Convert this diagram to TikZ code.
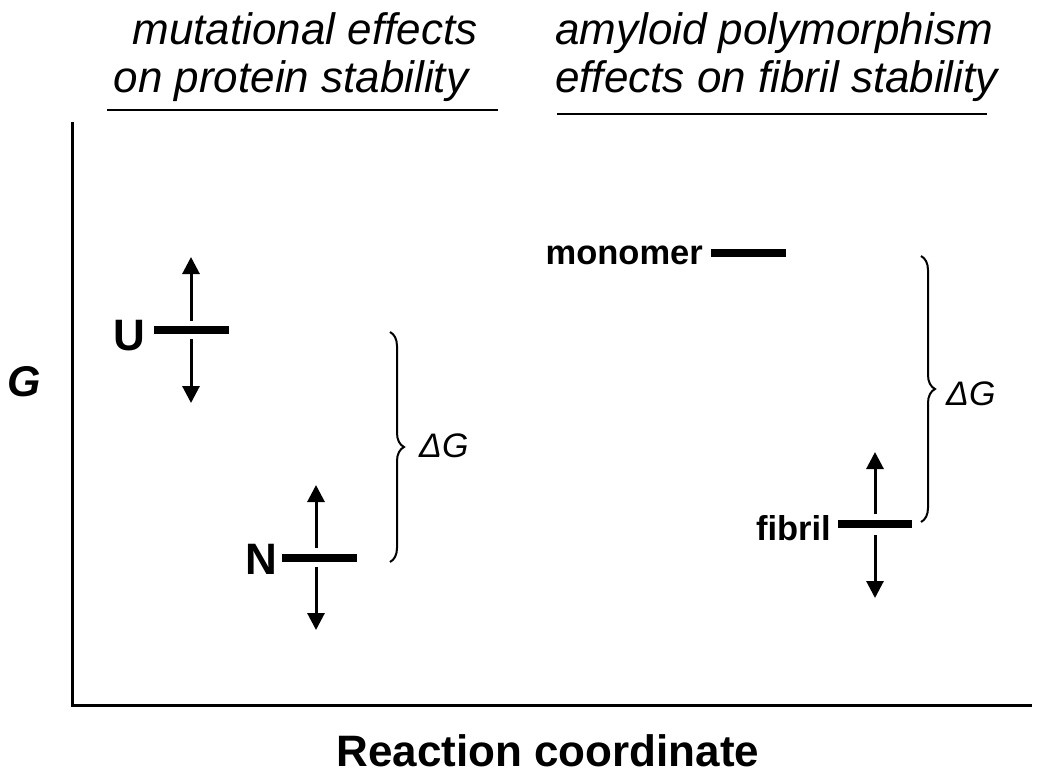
\documentclass[tikz,border=0pt]{standalone}
\usepackage{fontspec}
\setmainfont{Liberation Sans}
\usetikzlibrary{arrows.meta,decorations.pathreplacing}
\begin{document}
\begin{tikzpicture}[x=1pt,y=-1pt,
  axis/.style={line width=3pt},
  level/.style={line width=7.5pt},
  updown/.style={line width=3pt,-{Triangle[length=17pt,width=17pt]}},
  rule/.style={line width=2.5pt},
  gbrace/.style={decorate,decoration={brace,amplitude=14pt},line width=2pt},
  head/.style={inner sep=0pt,font=\fontsize{44}{50}\selectfont\itshape},
  lbl/.style={inner sep=0pt,font=\fontsize{34.5}{40}\selectfont\bfseries},
  big/.style={inner sep=0pt,font=\fontsize{44}{50}\selectfont\bfseries},
  dg/.style={inner sep=0pt,font=\fontsize{34}{40}\selectfont\itshape}]
\useasboundingbox (0,0) rectangle (1050,780);
% axes
\coordinate (top) at (72,122);
\coordinate (orig) at (72,705);
\coordinate (right) at (1032,705);
\draw[axis] (top) -- (orig) -- (right);
% headers
\node[head,anchor=base] (h1a) at (305,44) {mutational effects};
\node[head,anchor=base] (h1b) at (291,92) {on protein stability};
\coordinate (r1a) at (107,110); \coordinate (r1b) at (498,110);
\draw[rule] (r1a) -- (r1b);
\node[head,anchor=base west] (h2a) at (555,44) {amyloid polymorphism};
\node[head,anchor=base west] (h2b) at (555,92) {effects on fibril stability};
\coordinate (r2a) at (557,114); \coordinate (r2b) at (987,114);
\draw[rule] (r2a) -- (r2b);
% axis labels
\node[inner sep=0pt,anchor=base,font=\fontsize{43}{50}\selectfont\bfseries\itshape] (G) at (24,396) {G};
\node[big,anchor=base] (rc) at (548,766) {Reaction coordinate};
% U
\node[big,anchor=base east] (U) at (145,350) {U};
\coordinate (Ua) at (154,330); \coordinate (Ub) at (229,330);
\draw[level] (Ua) -- (Ub);
\coordinate (Uu0) at (191,321); \coordinate (Uu1) at (191,257);
\coordinate (Ud0) at (191,339); \coordinate (Ud1) at (191,403);
\draw[updown] (Uu0) -- (Uu1);
\draw[updown] (Ud0) -- (Ud1);
% N
\node[big,anchor=base east] (N) at (277,574) {N};
\coordinate (Na) at (282,558); \coordinate (Nb) at (357,558);
\draw[level] (Na) -- (Nb);
\coordinate (Nu0) at (316,548); \coordinate (Nu1) at (316,485);
\coordinate (Nd0) at (316,567); \coordinate (Nd1) at (316,630);
\draw[updown] (Nu0) -- (Nu1);
\draw[updown] (Nd0) -- (Nd1);
% brace 1
\coordinate (b1a) at (390,332); \coordinate (b1b) at (390,562);
\draw[gbrace] (b1a) -- (b1b);
\node[dg,anchor=base west] (dg1) at (419,457) {ΔG};
% monomer
\node[lbl,anchor=base east] (mono) at (703,264) {monomer};
\coordinate (ma) at (711,253) ; \coordinate (mb) at (786,253);
\draw[level] (ma) -- (mb);
% fibril
\node[lbl,anchor=base east] (fib) at (831,540) {fibril};
\coordinate (fa) at (838,524); \coordinate (fb) at (912,524);
\draw[level] (fa) -- (fb);
\coordinate (fu0) at (875,514); \coordinate (fu1) at (875,452);
\coordinate (fd0) at (875,535); \coordinate (fd1) at (875,598);
\draw[updown] (fu0) -- (fu1);
\draw[updown] (fd0) -- (fd1);
% brace 2
\coordinate (b2a) at (921,256); \coordinate (b2b) at (921,522);
\draw[gbrace] (b2a) -- (b2b);
\node[dg,anchor=base west] (dg2) at (946,405) {ΔG};
\end{tikzpicture}
\end{document}
